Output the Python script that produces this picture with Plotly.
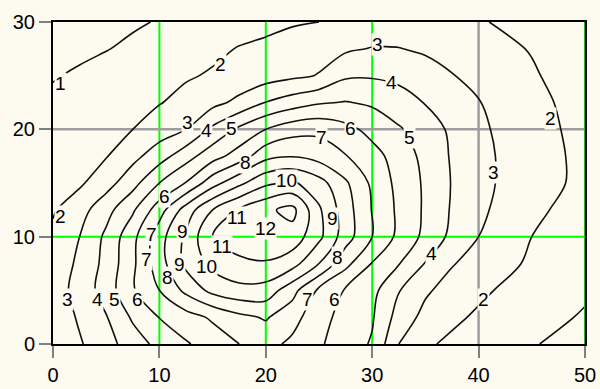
import plotly.graph_objects as go

# grid coordinates of the surface
x_vals = [0, 2.5, 5, 7.5, 10, 12.5, 15, 17.5, 20, 22.5, 25, 27.5, 30, 32.5, 35, 37.5, 40, 45, 50]
y_vals = [0, 2.5, 5, 7.5, 10, 12.5, 15, 17.5, 20, 22.5, 25, 27.5, 30]

# surface values (one list per y row)
z_y0_0 = [2.2, 2.9, 3.63, 4.5, 5.3, 5.9, 6.45, 7.0, 7.35, 6.77, 6.13, 5.5, 4.9, 3.0, 2.15, 1.8, 1.55, 1.07, 0.6]
z_y2_5 = [2.33, 3.13, 3.94, 5.15, 6.03, 6.6, 7.15, 7.75, 8.1, 7.4, 6.3, 5.7, 5.1, 3.6, 2.7, 2.2, 1.85, 1.38, 0.9]
z_y5_0 = [2.5, 3.36, 4.45, 5.9, 7.0, 8.25, 9.3, 9.7, 9.6, 8.35, 6.8, 5.9, 5.3, 4.05, 3.15, 2.6, 2.2, 1.5, 1.15]
z_y7_5 = [2.35, 3.2, 4.3, 5.8, 7.55, 9.26, 10.3, 10.8, 10.9, 10.4, 9.0, 7.3, 5.95, 5.05, 3.95, 3.07, 2.6, 1.85, 1.3]
z_y10_0 = [2.2, 3.0, 4.2, 5.7, 7.6, 9.2, 11.0, 11.5, 11.8, 11.6, 10.25, 8.45, 7.0, 5.75, 4.75, 3.75, 3.0, 2.0, 1.5]
z_y12_5 = [1.9, 2.6, 3.65, 4.85, 6.55, 8.45, 10.0, 11.1, 11.8, 12.3, 10.15, 8.45, 6.95, 5.8, 4.85, 3.9, 3.2, 2.2, 1.6]
z_y15_0 = [1.7, 1.85, 2.6, 3.65, 5.0, 6.05, 7.6, 8.75, 9.8, 10.15, 9.4, 8.15, 6.8, 5.7, 4.85, 3.95, 3.3, 2.35, 1.8]
z_y17_5 = [1.5, 1.75, 1.95, 2.7, 3.55, 4.6, 5.6, 6.45, 7.7, 7.95, 7.6, 7.05, 6.35, 5.6, 4.7, 3.9, 3.3, 2.35, 1.8]
z_y20_0 = [1.35, 1.5, 1.65, 2.0, 2.5, 3.0, 4.2, 5.2, 6.0, 6.6, 6.75, 6.3, 5.7, 5.1, 4.55, 3.8, 3.2, 2.3, 1.75]
z_y22_5 = [1.15, 1.3, 1.5, 1.75, 1.95, 2.3, 2.7, 3.25, 4.03, 4.5, 4.9, 5.05, 4.85, 4.45, 3.95, 3.5, 3.05, 2.25, 1.65]
z_y25_0 = [0.95, 1.1, 1.3, 1.5, 1.7, 1.9, 2.1, 2.35, 2.55, 2.8, 3.05, 3.85, 3.9, 3.75, 3.45, 3.05, 2.6, 2.1, 1.5]
z_y27_5 = [0.75, 0.85, 0.97, 1.15, 1.3, 1.55, 1.8, 2.05, 2.2, 2.45, 2.65, 2.85, 3.05, 3.03, 2.85, 2.6, 2.35, 1.95, 1.45]
z_y30_0 = [0.55, 0.65, 0.75, 0.9, 1.05, 1.25, 1.45, 1.6, 1.75, 1.9, 2.0, 2.2, 2.35, 2.45, 2.45, 2.3, 2.1, 1.6, 1.2]

# contour labels as placed in the picture
label_text = ["1", "2", "2", "2", "2", "3", "3", "3", "3", "4", "4", "4", "4",
              "5", "5", "5", "6", "6", "6", "6", "7", "7", "7", "7",
              "8", "8", "8", "9", "9", "9", "10", "10", "11", "11", "12"]
label_x = [0.7, 0.7, 15.7, 46.8, 40.5, 1.4, 12.6, 30.5, 41.4, 4.2, 14.4, 31.8, 35.6,
           5.8, 16.8, 33.5, 7.9, 10.5, 28.0, 26.5, 9.3, 8.8, 25.2, 23.9,
           18.1, 10.8, 26.7, 12.2, 11.9, 26.3, 21.9, 14.4, 17.3, 15.9, 20.0]
label_y = [24.3, 11.9, 26.0, 21.0, 4.1, 4.1, 20.6, 27.9, 16.0, 4.1, 19.9, 24.4, 8.4,
           4.1, 20.1, 19.2, 4.1, 13.7, 20.1, 4.1, 10.2, 7.9, 19.2, 4.1,
           16.9, 6.2, 8.1, 10.5, 7.4, 11.7, 15.2, 7.2, 11.8, 9.1, 10.8]

x_ticks = [0, 10, 20, 30, 40, 50]
y_ticks = [0, 10, 20, 30]
green_x = [10, 20, 30]
edge_green_x = [50]
gray_x = [40]
green_y = [10]
gray_y = [20]

Z = [z_y0_0, z_y2_5, z_y5_0, z_y7_5, z_y10_0, z_y12_5, z_y15_0,
     z_y17_5, z_y20_0, z_y22_5, z_y25_0, z_y27_5, z_y30_0]

bg = "#FDFAF0"
font = "Liberation Sans, Arial, sans-serif"

fig = go.Figure()
fig.add_trace(go.Contour(
    x=x_vals, y=y_vals, z=Z,
    contours=dict(start=1, end=12, size=1, coloring="lines", showlabels=False),
    colorscale=[[0, "#111111"], [1, "#111111"]],
    line=dict(width=1.6, smoothing=1.0),
    showscale=False,
    hoverinfo="skip",
))

shapes = []
for gx in green_x:
    shapes.append(dict(type="line", xref="x", yref="y", x0=gx, x1=gx, y0=0, y1=30,
                       line=dict(color="#00FF00", width=2), layer="below"))
for gx in gray_x:
    shapes.append(dict(type="line", xref="x", yref="y", x0=gx, x1=gx, y0=0, y1=30,
                       line=dict(color="#9E9E9E", width=2.5), layer="below"))
for gy in green_y:
    shapes.append(dict(type="line", xref="x", yref="y", x0=0, x1=50, y0=gy, y1=gy,
                       line=dict(color="#00FF00", width=2), layer="below"))
for gy in gray_y:
    shapes.append(dict(type="line", xref="x", yref="y", x0=0, x1=50, y0=gy, y1=gy,
                       line=dict(color="#9E9E9E", width=2.5), layer="below"))
for gx in edge_green_x:
    shapes.append(dict(type="line", xref="x", yref="y", x0=gx, x1=gx, y0=0, y1=30,
                       line=dict(color="#2DB02D", width=2), layer="above"))

annotations = [dict(x=lx, y=ly, xref="x", yref="y", text=t, showarrow=False,
                    font=dict(size=19, color="black", family=font),
                    bgcolor=bg, borderpad=0)
               for t, lx, ly in zip(label_text, label_x, label_y)]

axis_common = dict(showgrid=False, zeroline=False, ticks="outside", ticklen=12,
                   tickwidth=2, tickcolor="#808080", showline=True, linecolor="black",
                   linewidth=2, mirror=True, automargin=False,
                   tickfont=dict(size=20, color="black", family=font))

fig.update_layout(
    width=600, height=389,
    margin=dict(l=53, r=15, t=22, b=45, autoexpand=False),
    paper_bgcolor=bg, plot_bgcolor=bg,
    shapes=shapes,
    annotations=annotations,
    showlegend=False,
    xaxis=dict(range=[0, 50], tickvals=x_ticks, ticktext=[str(v) for v in x_ticks],
               **axis_common),
    yaxis=dict(range=[0, 30], tickvals=y_ticks, ticktext=[str(v) for v in y_ticks],
               **axis_common),
)

fig.write_html(
    "out.html",
    config={"displayModeBar": False, "staticPlot": True},
    post_script="document.body.style.margin='0';document.body.style.padding='0';"
                "document.body.style.overflow='hidden';"
                "document.body.style.backgroundColor='" + bg + "';",
)
